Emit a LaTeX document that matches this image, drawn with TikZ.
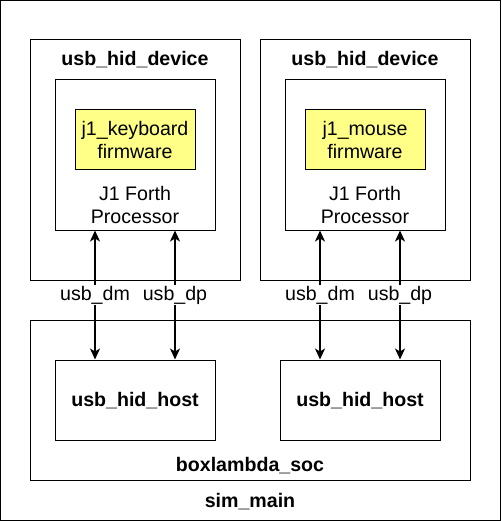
\documentclass[tikz,border=0pt]{standalone}
\usepackage{fontspec}
\setmainfont{Liberation Sans}
\usepackage {tikz}
\usetikzlibrary {positioning}
\usetikzlibrary{arrows.meta}
\usepackage{xcolor}
\definecolor{fwyellow}{HTML}{FFFF88}

\begin{document}
\begin{tikzpicture}[x=1pt, y=-1pt, line width=1pt, >={Stealth[length=11pt,width=10pt,inset=3pt]},
    box node/.style={shape=rectangle, draw=black, inner sep=0},
    fw node/.style={box node, fill=fwyellow, minimum width=120, minimum height=60, align=center, font=\fontsize{19.6}{23}\selectfont},
    title node/.style={inner sep=0, font=\fontsize{19.6}{23}\selectfont\bfseries},
    text node/.style={inner sep=0, align=center, font=\fontsize{19.6}{23}\selectfont},
    sig arrow/.style={<->, line width=1.5pt},
    sig label/.style={fill=white, inner sep=0.5pt, font=\fontsize{19.6}{23}\selectfont}, ]
		\useasboundingbox (0,0) rectangle (501,521);
		%outer boxes
		\node[box node, minimum width=500, minimum height=520] (simmain) at (250.5,260.5){};
		\node[box node, minimum width=440, minimum height=160] (soc) at (250,400){};
		\node[title node] (tsim) at (250,502){sim\_main};
		\node[title node] (tsoc) at (250,466){boxlambda\_soc};
		%devices
		\node[box node, minimum width=210, minimum height=240] (dev1) at (135,160){};
		\node[box node, minimum width=210, minimum height=240] (dev2) at (365,160){};
		\node[title node] (tdev1) at (135,60){usb\_hid\_device};
		\node[title node] (tdev2) at (365,60){usb\_hid\_device};
		\node[box node, minimum width=160, minimum height=150] (j1a) at (135,155){};
		\node[box node, minimum width=160, minimum height=150] (j1b) at (365,155){};
		\node[fw node] (fw1) at (135,140){j1\_keyboard\\firmware};
		\node[fw node] (fw2) at (365,140){j1\_mouse\\firmware};
		\node[text node] (cpu1) at (135,205){J1 Forth\\Processor};
		\node[text node] (cpu2) at (365,205){J1 Forth\\Processor};
		%hosts
		\node[box node, minimum width=160, minimum height=80] (host1) at (135,400){};
		\node[box node, minimum width=160, minimum height=80] (host2) at (360,400){};
		\node[title node] (thost1) at (135,401){usb\_hid\_host};
		\node[title node] (thost2) at (360,401){usb\_hid\_host};
		%usb lines
		\draw[sig arrow] ([xshift=-40pt]host1.north) -- ([xshift=-40pt]j1a.south) node[sig label, midway]{usb\_dm};
		\draw[sig arrow] ([xshift=40pt]host1.north) -- ([xshift=40pt]j1a.south) node[sig label, midway]{usb\_dp};
		\draw[sig arrow] ([xshift=-40pt]host2.north) -- ([xshift=-40pt]host2.north |- j1b.south) node[sig label, midway]{usb\_dm};
		\draw[sig arrow] ([xshift=40pt]host2.north) -- ([xshift=40pt]host2.north |- j1b.south) node[sig label, midway]{usb\_dp};
		
\end{tikzpicture}
\end{document}
